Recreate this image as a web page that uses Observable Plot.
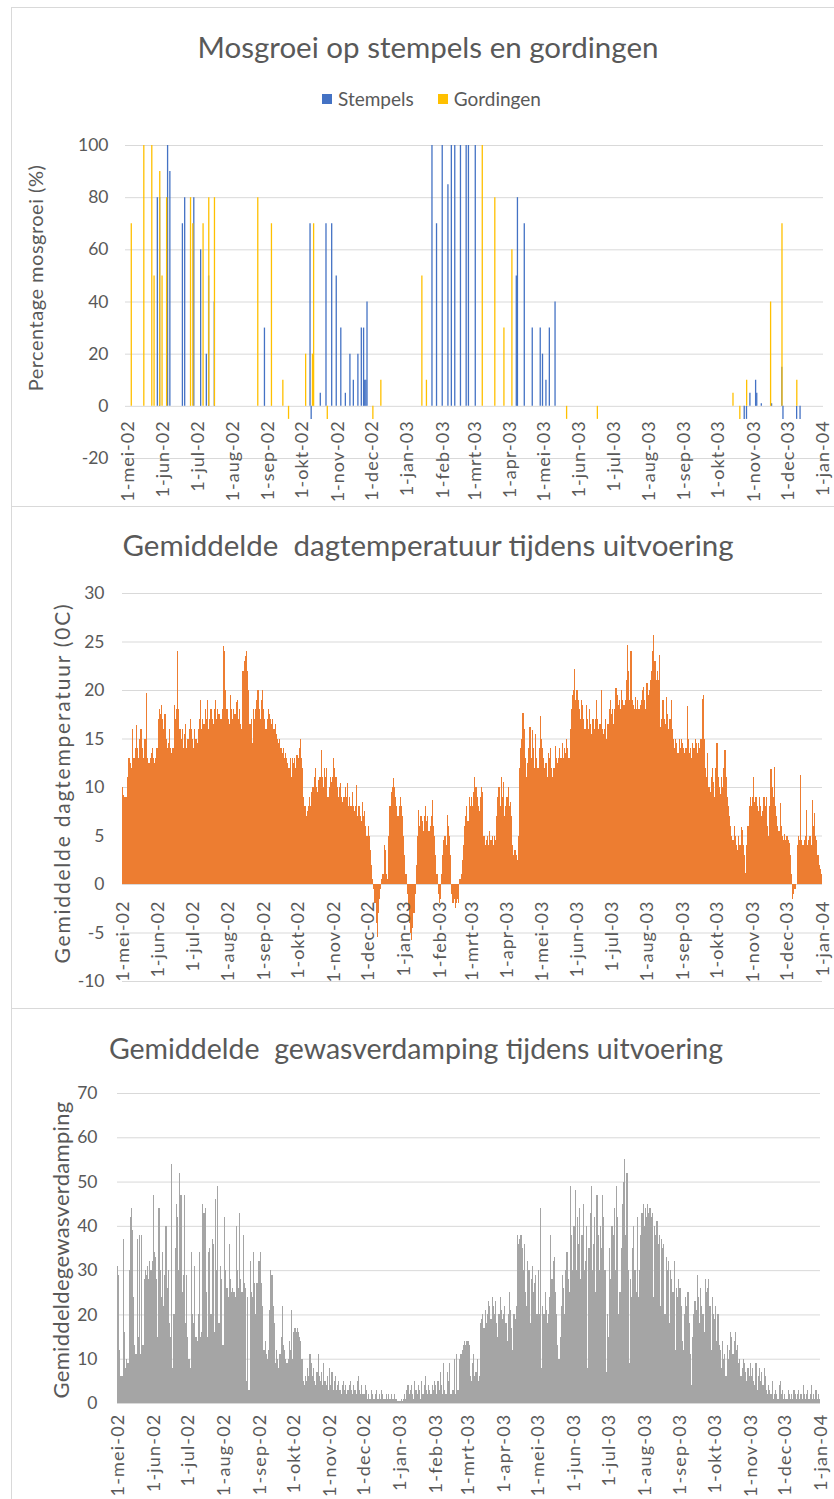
<!DOCTYPE html>
<html lang="nl">
<head>
<meta charset="utf-8">
<script src="https://cdn.jsdelivr.net/npm/d3@7"></script>
<script src="https://cdn.jsdelivr.net/npm/@observablehq/plot@0.6"></script>
<style>
html,body{margin:0;padding:0;background:#fff;}
#page{position:relative;width:834px;height:1499px;overflow:hidden;font-family:Lato,"Open Sans",sans-serif;color:#595959;}
.box{position:absolute;left:11px;width:840px;border:1px solid #d9d9d9;box-sizing:border-box;}
.title{position:absolute;left:11px;width:834px;text-align:center;font-size:29.5px;line-height:30px;white-space:pre;}
.ytitle{position:absolute;transform:translate(-50%,-50%) rotate(-90deg);white-space:pre;font-size:20px;line-height:20px;}
.chart{position:absolute;left:0;}
.legend{position:absolute;top:89px;left:322px;font-size:19px;line-height:19px;display:flex;align-items:center;white-space:pre;}
.sw{display:inline-block;width:10px;height:10px;margin-right:6px;}
</style>
</head>
<body>
<div id="page">
  <div class="box" style="top:7px;height:500px"></div>
  <div class="box" style="top:506px;height:503px"></div>
  <div class="box" style="top:1008px;height:500px"></div>

  <div class="title" style="top:32px">Mosgroei op stempels en gordingen</div>
  <div class="legend"><span class="sw" style="background:#4472C4"></span>Stempels<span style="display:inline-block;width:24px"></span><span class="sw" style="background:#FFC000"></span>Gordingen</div>
  <div class="ytitle" style="left:35px;top:278px;letter-spacing:0.5px">Percentage mosgroei (%)</div>
  <div id="c1" class="chart" style="top:0px"></div>

  <div class="title" style="top:530px">Gemiddelde  dagtemperatuur tijdens uitvoering</div>
  <div class="ytitle" style="left:62px;top:783px;font-size:21px;letter-spacing:1.8px">Gemiddelde dagtemperatuur (0C)</div>
  <div id="c2" class="chart" style="top:506px"></div>

  <div class="title" style="top:1033px;left:-1px;font-size:28.5px">Gemiddelde  gewasverdamping tijdens uitvoering</div>
  <div class="ytitle" style="left:61px;top:1250px;font-size:22px;letter-spacing:0.3px">Gemiddeldegewasverdamping</div>
  <div id="c3" class="chart" style="top:1008px"></div>
</div>
<script>
// ---------- data ----------
const tickDatums = ["2002-05-01","2002-06-01","2002-07-01","2002-08-01","2002-09-01","2002-10-01","2002-11-01","2002-12-01","2003-01-01","2003-02-01","2003-03-01","2003-04-01","2003-05-01","2003-06-01","2003-07-01","2003-08-01","2003-09-01","2003-10-01","2003-11-01","2003-12-01","2004-01-01"];
const tickLabels = ["1-mei-02","1-jun-02","1-jul-02","1-aug-02","1-sep-02","1-okt-02","1-nov-02","1-dec-02","1-jan-03","1-feb-03","1-mrt-03","1-apr-03","1-mei-03","1-jun-03","1-jul-03","1-aug-03","1-sep-03","1-okt-03","1-nov-03","1-dec-03","1-jan-04"];

const mosTicks = [-20, 0, 20, 40, 60, 80, 100];
const tempTicks = [-10, -5, 0, 5, 10, 15, 20, 25, 30];
const verdTicks = [0, 10, 20, 30, 40, 50, 60, 70];

const stempelsDatum = ["2002-05-27","2002-05-29","2002-06-05","2002-06-07","2002-06-18","2002-06-20","2002-06-28","2002-07-04","2002-07-09","2002-07-11","2002-07-16","2002-08-29","2002-10-08","2002-10-09","2002-10-17","2002-10-22","2002-10-27","2002-10-31","2002-11-04","2002-11-08","2002-11-12","2002-11-15","2002-11-19","2002-11-22","2002-11-24","2002-11-25","2002-11-26","2002-11-27","2003-01-23","2003-01-27","2003-02-01","2003-02-06","2003-02-09","2003-02-12","2003-02-17","2003-02-22","2003-02-24","2003-03-02","2003-04-07","2003-04-08","2003-04-14","2003-04-21","2003-04-28","2003-04-30","2003-05-03","2003-05-06","2003-05-11","2003-10-24","2003-10-26","2003-10-29","2003-11-03","2003-11-04","2003-11-08","2003-11-17","2003-11-26","2003-11-27","2003-12-09","2003-12-12"];
const stempelsWaarde = [80,80,100,90,70,80,80,60,20,50,40,30,70,-5,5,70,70,50,30,5,20,10,20,30,30,10,10,40,100,70,100,85,100,100,100,100,100,100,50,80,70,30,30,20,10,30,40,-5,-5,5,10,5,1,1,15,-5,-5,-5];

const gordingenDatum = ["2002-05-03","2002-05-14","2002-05-21","2002-05-23","2002-05-28","2002-05-30","2002-06-03","2002-06-24","2002-06-26","2002-07-05","2002-07-10","2002-07-15","2002-08-22","2002-09-03","2002-09-13","2002-09-18","2002-10-03","2002-10-09","2002-10-10","2002-10-22","2002-12-01","2002-12-08","2003-01-13","2003-01-17","2003-03-07","2003-03-18","2003-03-26","2003-04-02","2003-05-20","2003-06-16","2003-10-13","2003-10-19","2003-10-25","2003-11-15","2003-11-25","2003-12-08"];
const gordingenWaarde = [70,100,100,50,90,50,80,80,70,70,80,80,80,70,10,-5,20,20,70,-5,-5,10,50,10,100,80,30,60,-5,-5,5,-5,10,40,70,10];

const maanden = ["2002-05","2002-06","2002-07","2002-08","2002-09","2002-10","2002-11","2002-12","2003-01","2003-02","2003-03","2003-04","2003-05","2003-06","2003-07","2003-08","2003-09","2003-10","2003-11","2003-12"];

// daily mean temperature (°C), one sub-list per month
const temperatuur = [
  [10,9.2,9,9,11,13,13,12.5,12,16,13,14,16.4,14,13,15,16,14,13,15,15,19.7,13,12.5,13,13.5,14,13,12.5,13,14],
  [17,18,17.5,18.5,17,16,17.5,15,14,14.5,16,14,13.5,14,18.5,17,18,24,18,16,15,16,14,15.5,16.5,14,15,16,17,16],
  [15,14,16,15,14.5,16,17,19,16,17,16.5,18,17,19,16,17,18,17,16.5,18,19,17,18,17.5,17,17,18,24.5,24,20,18],
  [17,16.5,19.5,18,17,18,17.5,18.8,19,17,18,16.5,16,22,23,23.5,24,22,20,16.5,17,14.5,18,17,18,19,20,18,17,19,20],
  [18,17,16,17,18,17.5,17,16.5,17,16,16.5,15.5,15,14.5,15,14,13.5,14,13,13.5,13,12.5,12,13,11,13,12.5,13,12,13.3],
  [13,14,15,13,12,9,8,7,7.5,8,9,8,9.5,10,11,12,10,9.5,10.7,11,13.8,11,10,12,11,12,9,10,11,10.5,11],
  [13,12,11,10,9,10,10.4,9,8.5,9,10,9,10.4,8,9,8,9.5,8,7.5,8,10.2,7,8,7,6.5,8.5,7,7.5,6,5],
  [6,5,3.5,2,0.5,-0.5,-2,-4,-5.5,-3,-1.5,-0.5,0.5,1,4,3.5,1,0.5,5,8,9.5,10,10.9,10,9,8,7,8,9,8,7],
  [5,3,1,-1,-2.5,-4,-5,-5.8,-4.5,-3,-1,2,5,7.6,6,7,6.5,5.5,7,8,6.5,7,5.5,6,7,8.7,6,5,3,1,-1],
  [-2,-1.5,1,3,4.5,5,4,7.1,6,5,3,-1,-2,-1.5,-2.5,-2,-1.5,-2,0.5,1,2.5,4,6,7,8,6.5,9,8],
  [9,8,9.5,11,10,9,8,7.5,9,10,9.5,5,4,4.5,5,4,5.5,4.5,5,4,5,4.5,7,9,10,8,11,9,10.5,7,8],
  [9,10,8,8.5,7,4,3,3.5,3,2.5,5,12,14,15,17.6,16,13,11,12.5,14,16.2,13,15.9,14,12,15.5,13,12,14,17.3],
  [15,14,13,12,12.5,11,13.5,13,14,12,11,12,14.2,13,12.5,13,14,13,14.5,13,14,13.5,15,14,13,16,18,19.5,20,22.2,19],
  [20,19,18,17,19,18.5,17,16,18.5,17,16,18,16.5,15.5,17,16,17,19,17,16,16.5,20,16,15.5,16,17,15,16.5,18,19],
  [17.5,18,16.5,18,20.2,19.5,18.5,19,18,20,19,18.5,19,21,24.6,22,19,24,19,18.5,18,19.3,18,19,18,18.5,19,20,20.3,19,18],
  [20.7,19.5,20,21,22,24,25.7,23,21,22,21,23.6,16.2,17,19,17,16.5,19.3,17.5,16,17,19,16,15,14,15,14.5,13.5,15,14,15],
  [14.5,14,13.5,14,18.3,15,13.5,14,13,14.5,14,15,14.5,13.5,14.5,14,15,19.1,19.5,15,12,11,13.5,10,9.5,11,12,10.5,9,12],
  [14.5,11,10,9.3,11,10,12,13.8,11,9,8,7,6,5,4.5,6,5,4,3.5,5,4,5.9,5.6,4,3,1.1,4,6,8,9,8],
  [9,11,8.5,9,8,7.5,9,8,7,7.5,9,8,9,6,4.9,8,11.9,10,9,12.1,8,7,6,5.5,8.3,6,5,4.5,5.2,4.5],
  [5,4.5,4.2,3,1,-1.5,-1,-0.5,0,4,5,4.5,11.2,4.5,4,4.5,5,7.6,4,4.5,5,4,8.7,6,7.3,5,4.5,3,2,1.5,1]
];

// daily crop evaporation, one sub-list per month
const verdamping = [
  [31,29,12,6,6,37,16,8,10,9,30,42,44,39,24,13,11,37,15,38,11,38,13,28,30,29,31,28,32,30,32],
  [47,34,33,28,15,44,30,24,34,22,29,40,26,30,18,15,54,8,20,35,45,42,30,52,47,25,29,47,18,29],
  [15,10,8,34,20,18,31,15,14,20,34,15,16,45,43,44,25,15,34,35,20,37,36,16,46,30,49,18,31,28,13],
  [13,42,30,26,24,36,28,25,26,25,24,40,30,26,43,28,25,38,27,26,5,24,3,32,25,24,34,27,20,27,32],
  [32,34,27,22,12,14,11,10,12,21,30,29,22,18,9,12,10,8,11,15,22,13,12,10,9,10,14,12,21,10],
  [16,17,16,17,16,15,14,10,5,4,6,5,8,6,11,9,6,8,5,4,7,11,6,5,7,4,9,5,4,6,3],
  [8,4,7,3,5,6,3,4,5,3,2,4,5,3,4,2,3,4,5,3,2,4,3,2,5,6,3,2,4,2],
  [2,4,3,1,2,1,3,2,1,1,2,3,1,2,1,3,2,1,1,2,1,2,1,1,2,1,2,1,1,0.5,0.5],
  [0.5,1,0.5,1,2,1,3,4,2,3,4,2,1,5,3,2,4,3,1,5,2,4,6,3,2,4,3,2,4,3,5],
  [4,2,5,3,7,4,2,9,3,2,7,5,9,2,2,3,10,2,11,3,3,10,11,12,13,14,13,14],
  [14,13,6,5,9,11,6,7,10,5,6,18,19,20,17,21,18,20,23,22,19,24,22,20,23,18,15,20,24,21,19],
  [20,22,18,14,20,25,21,17,12,20,19,22,38,36,37,38,35,30,36,25,22,32,30,18,28,31,25,27,29,20],
  [30,20,44,8,22,20,25,21,18,20,24,38,28,32,33,25,20,13,10,15,22,29,26,20,30,34,28,25,49,38,30],
  [40,48,30,42,36,44,28,38,45,30,32,40,8,35,43,49,30,36,42,25,47,38,30,40,35,47,42,30,7,20],
  [15,35,28,40,38,44,30,49,42,20,25,35,45,50,55,38,52,30,9,28,24,35,40,30,25,42,24,30,38,43,45],
  [40,44,42,45,43,44,42,43,24,40,38,41,36,38,22,37,35,36,20,33,30,32,18,30,28,25,32,12,26,24,28],
  [26,22,14,12,20,24,22,25,18,11,4,15,20,23,21,29,24,18,26,22,20,16,28,25,26,28,22,12,24,20],
  [19,22,14,20,13,12,8,14,10,11,6,13,10,12,16,15,11,14,16,12,13,9,10,6,8,10,9,7,5,8,6],
  [9,6,8,5,4,9,3,6,8,5,7,4,8,6,3,2,4,3,2,5,1,2,3,2,1,4,5,2,3,1],
  [2,1,1,3,2,1,2,1,3,2,1,2,3,1,2,1,4,2,1,2,3,1,2,4,1,2,1,3,1,2,1]
];

// ---------- build tables ----------
const parse = s => new Date(s + "T00:00:00Z");
const ticks = tickDatums.map((d, i) => ({date: parse(d), label: tickLabels[i]}));
const stempels = stempelsDatum.map((d, i) => ({date: parse(d), value: stempelsWaarde[i]}));
const gordingen = gordingenDatum.map((d, i) => ({date: parse(d), value: gordingenWaarde[i]}));
function daily(perMaand) {
  const out = [];
  perMaand.forEach((vals, m) => {
    const start = parse(maanden[m] + "-01");
    vals.forEach((v, i) => out.push({date: d3.utcDay.offset(start, i), value: v}));
  });
  return out;
}
const temp = daily(temperatuur);
const verd = daily(verdamping);

const TXT = "#595959", GRID = "#d9d9d9";
const half = (d, s) => d3.utcHour.offset(d, 12 * s);

function yLabels(tks, pad, size) {
  return Plot.text(tks, {frameAnchor: "left", y: d => d, text: d => String(d), textAnchor: "end", dx: -pad, fontSize: size, fill: TXT});
}
function xLabels(dy, size) {
  return Plot.text(ticks, {x: "date", y: () => 0, text: "label", rotate: -90, textAnchor: "end", dy, fontSize: size, fill: TXT});
}
function spaceLastText(svg, spacing) {
  const groups = svg.querySelectorAll('g[aria-label="text"]');
  const g = groups[groups.length - 1];
  if (g) g.style.letterSpacing = spacing;
}
const baseStyle = {fontFamily: "Lato, 'Open Sans', sans-serif", color: TXT, background: "transparent", overflow: "visible"};

// ---------- chart 1 ----------
const c1 = Plot.plot({
  width: 834, height: 506,
  marginTop: 145, marginBottom: 48, marginLeft: 125, marginRight: 11,
  style: baseStyle,
  x: {type: "utc", domain: [new Date(parse("2002-04-28").getTime() + 12*3600e3), parse("2004-01-01")], axis: null},
  y: {domain: [-20, 100], axis: null},
  marks: [
    Plot.ruleY(mosTicks, {stroke: GRID, strokeWidth: 1}),
    Plot.ruleX(stempels, {x: "date", y1: () => 0, y2: "value", stroke: "#4472C4", strokeWidth: 1.3, dx: -0.65}),
    Plot.ruleX(gordingen, {x: "date", y1: () => 0, y2: "value", stroke: "#FFC000", strokeWidth: 1.3, dx: 0.65}),
    yLabels(mosTicks, 17, 17.5),
    xLabels(14, 18)
  ]
});
spaceLastText(c1, "1px");
document.getElementById("c1").append(c1);

// ---------- chart 2 ----------
const c2 = Plot.plot({
  width: 834, height: 502,
  marginTop: 87, marginBottom: 27, marginLeft: 122, marginRight: 12,
  style: baseStyle,
  x: {type: "utc", domain: [half(parse("2002-05-01"), -1), half(parse("2003-12-31"), 1)], axis: null},
  y: {domain: [-10, 30], axis: null},
  marks: [
    Plot.ruleY(tempTicks, {stroke: GRID, strokeWidth: 1}),
    Plot.rect(temp, {x1: d => half(d.date, -1), x2: d => half(d.date, 1), y1: () => 0, y2: "value", fill: "#ED7D31", shapeRendering: "crispEdges"}),
    yLabels(tempTicks, 18, 17.5),
    xLabels(16, 18)
  ]
});
spaceLastText(c2, "1px");
document.getElementById("c2").append(c2);

// ---------- chart 3 ----------
const c3 = Plot.plot({
  width: 834, height: 491,
  marginTop: 85, marginBottom: 96, marginLeft: 117, marginRight: 14,
  style: baseStyle,
  x: {type: "utc", domain: [half(parse("2002-05-01"), -1), half(parse("2003-12-31"), 1)], axis: null},
  y: {domain: [0, 70], axis: null},
  marks: [
    Plot.ruleY(verdTicks, {stroke: GRID, strokeWidth: 1}),
    Plot.rect(verd, {x1: d => half(d.date, -1), x2: d => half(d.date, 1), y1: () => 0, y2: "value", fill: "#A5A5A5", shapeRendering: "crispEdges"}),
    yLabels(verdTicks, 20, 17.5),
    xLabels(10, 18)
  ]
});
spaceLastText(c3, "1.2px");
document.getElementById("c3").append(c3);
</script>
</body>
</html>
